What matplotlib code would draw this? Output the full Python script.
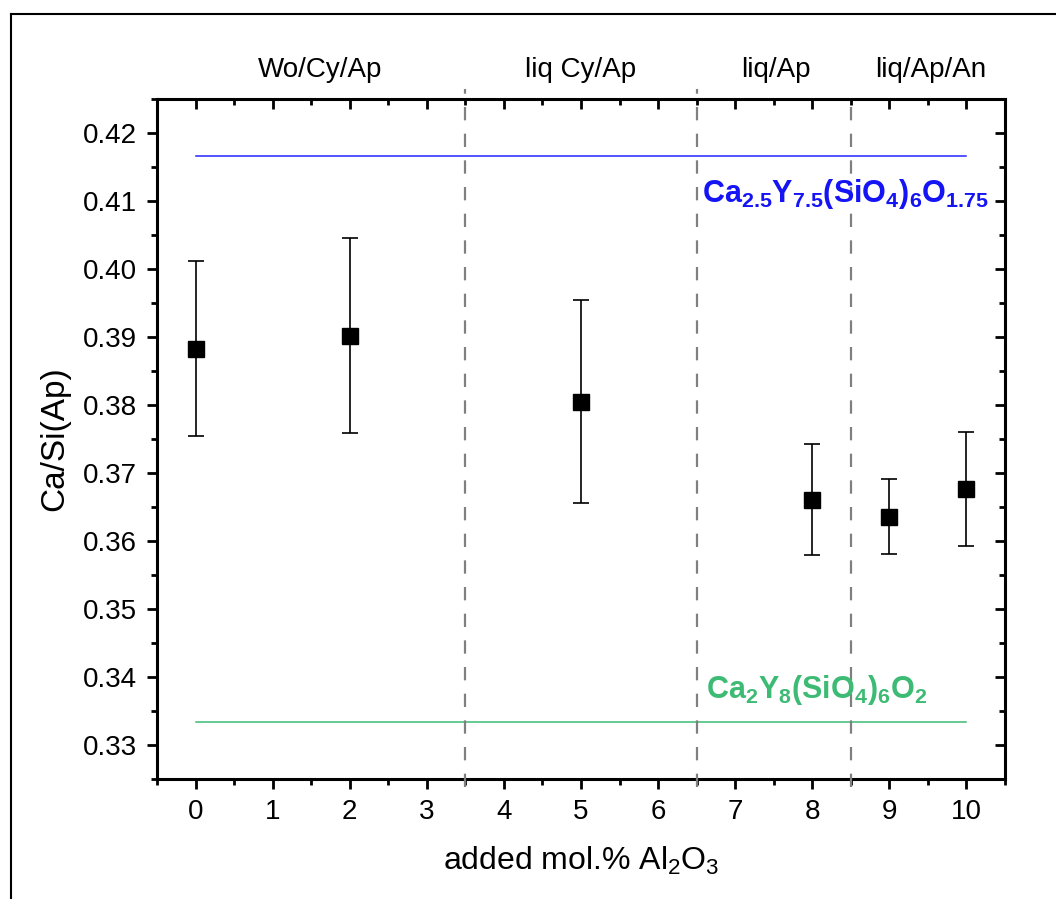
import matplotlib
matplotlib.use("Agg")
import matplotlib.pyplot as plt
from matplotlib.lines import Line2D
from matplotlib.ticker import MultipleLocator

plt.rcParams['font.family'] = ['Liberation Sans', 'DejaVu Sans']
plt.rcParams['mathtext.fontset'] = 'custom'
plt.rcParams['mathtext.rm'] = 'Liberation Sans'
plt.rcParams['mathtext.bf'] = 'Liberation Sans:bold'
plt.rcParams['mathtext.default'] = 'regular'

# datos
al2o3 = [0, 2, 5, 8, 9, 10]
ca_si = [0.3883, 0.3902, 0.3805, 0.3661, 0.3636, 0.3677]
error = [0.0129, 0.0143, 0.0149, 0.0081, 0.0055, 0.0084]

ratio_ca25 = 2.5 / 6
ratio_ca2 = 2 / 6
limites_fase = [3.5, 6.5, 8.5]
nombres_fase = ["Wo/Cy/Ap", "liq Cy/Ap", "liq/Ap", "liq/Ap/An"]
centros_fase = [1.61, 5.0, 7.53, 9.54]

fig = plt.figure(figsize=(10.56, 8.99), dpi=100)
ax = fig.add_axes([157 / 1056, 1 - 779 / 899, 848 / 1056, 680 / 899])

# marco exterior (recortado a la derecha y abajo)
fig.add_artist(Line2D([10.5 / 1056, 10.5 / 1056], [1 - 14 / 899, 0], color="black", lw=1.5))
fig.add_artist(Line2D([10.5 / 1056, 1], [1 - 14 / 899, 1 - 14 / 899], color="black", lw=1.5))

ax.errorbar(al2o3, ca_si, yerr=error, fmt="s", color="black", ms=11,
            ecolor="black", elinewidth=1.2, capsize=6, capthick=1.2, zorder=5)

ax.plot([0, 10], [ratio_ca25, ratio_ca25], color="#2424FF", lw=1.1)
ax.plot([0, 10], [ratio_ca2, ratio_ca2], color="#3DBB74", lw=1.1)

for i, xv in enumerate(limites_fase):
    ytop = 0.4265 if i < 2 else 0.425
    ax.plot([xv, xv], [0.3238, ytop], color="#808080", lw=1.6, dashes=(6, 6),
            clip_on=False, zorder=3)

ax.text(6.57, 0.4099, r"$\mathbf{Ca_{2.5}Y_{7.5}(SiO_4)_6O_{1.75}}$", color="#1414F5",
        fontsize=22, ha="left", va="baseline")
ax.text(6.62, 0.3369, r"$\mathbf{Ca_2Y_8(SiO_4)_6O_2}$", color="#3DBB74",
        fontsize=22, ha="left", va="baseline")

trans = ax.get_xaxis_transform()
for nombre, xc in zip(nombres_fase, centros_fase):
    ax.text(xc, 1.032, nombre, transform=trans, ha="center", va="baseline", fontsize=20)

ax.set_xlim(-0.5, 10.5)
ax.set_ylim(0.325, 0.425)
ax.xaxis.set_major_locator(MultipleLocator(1))
ax.xaxis.set_minor_locator(MultipleLocator(0.5))
ax.yaxis.set_major_locator(MultipleLocator(0.01))
ax.yaxis.set_minor_locator(MultipleLocator(0.005))
ax.yaxis.set_major_formatter(plt.FormatStrFormatter("%.2f"))

ax.tick_params(axis="both", which="major", length=7.5, width=2, labelsize=20, pad=7)
ax.tick_params(axis="both", which="minor", length=4, width=2)
ax.tick_params(axis="x", which="both", direction="out", top=True)
ax.tick_params(axis="y", which="both", direction="out", right=True)
# ticks de arriba y derecha hacia dentro
for t in ax.xaxis.get_ticklines(minor=False)[1::2] + ax.xaxis.get_ticklines(minor=True)[1::2]:
    t.set_marker(3)
for t in ax.yaxis.get_ticklines(minor=False)[1::2] + ax.yaxis.get_ticklines(minor=True)[1::2]:
    t.set_marker(0)
for s in ax.spines.values():
    s.set_linewidth(2.2)

ax.set_xlabel(r"added mol.% Al$_2$O$_3$", fontsize=23, labelpad=14)
ax.set_ylabel("Ca/Si(Ap)", fontsize=24, labelpad=9)

fig.savefig("out.png", dpi=100)
